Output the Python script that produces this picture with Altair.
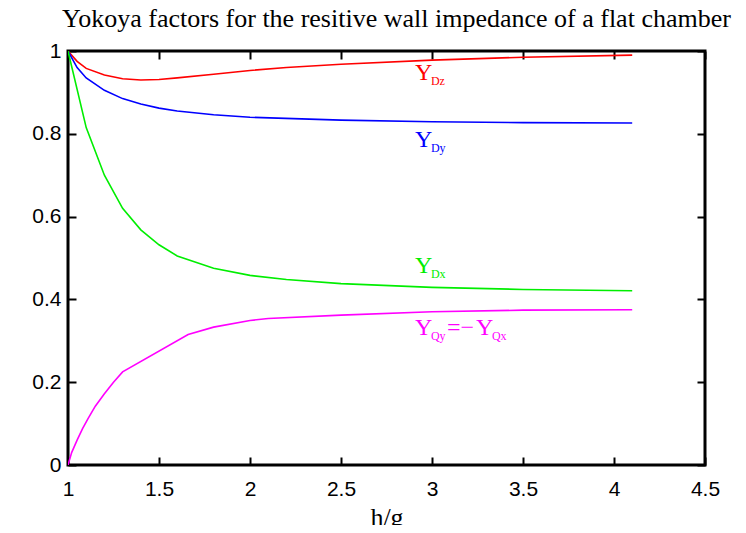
import altair as alt
import pandas as pd

# ---- data ----
dz_x = [1.0, 1.05, 1.1, 1.2, 1.3, 1.4, 1.5, 1.6, 1.8, 2.0, 2.2, 2.5, 3.0, 3.5, 4.1]
dz_y = [1.0, 0.975, 0.958, 0.942, 0.933, 0.930, 0.931, 0.935, 0.944, 0.953, 0.960, 0.968, 0.978, 0.985, 0.990]

dy_x = [1.0, 1.05, 1.1, 1.2, 1.3, 1.4, 1.5, 1.6, 1.8, 2.0, 2.5, 3.0, 3.5, 4.1]
dy_y = [1.0, 0.960, 0.935, 0.905, 0.885, 0.872, 0.862, 0.855, 0.846, 0.840, 0.833, 0.829, 0.827, 0.826]

dx_x = [1.0, 1.1, 1.2, 1.3, 1.4, 1.5, 1.6, 1.8, 2.0, 2.2, 2.5, 3.0, 3.5, 4.1]
dx_y = [1.0, 0.815, 0.700, 0.620, 0.568, 0.532, 0.505, 0.475, 0.458, 0.448, 0.438, 0.429, 0.424, 0.421]

qy_x = [1.0, 1.02, 1.05, 1.08, 1.11, 1.15, 1.2, 1.25, 1.3, 1.66, 1.8, 2.0, 2.1, 2.5, 3.0, 3.5, 4.1]
qy_y = [0.0, 0.030, 0.060, 0.088, 0.112, 0.142, 0.172, 0.200, 0.225, 0.315, 0.333, 0.349, 0.354, 0.362, 0.370, 0.374, 0.375]

series_names = ["YDz", "YDy", "YDx", "YQy"]
series_colors = ["#ff0000", "#0000ff", "#00ee00", "#ff00ff"]

x_ticks = [1, 1.5, 2, 2.5, 3, 3.5, 4, 4.5]
y_ticks = [0, 0.2, 0.4, 0.6, 0.8, 1]

# label anchors (data units) and texts
label_x = [2.906, 2.906, 2.906, 2.906]
label_y = [0.930, 0.768, 0.464, 0.314]
label_sub = ["Dz", "Dy", "Dx", "Qy"]

title_text = "Yokoya factors for the resitive wall impedance of a flat chamber"
x_title = "h/g"

# ---- build tables ----
rows = []
for name, xs, ys in zip(series_names, [dz_x, dy_x, dx_x, qy_x], [dz_y, dy_y, dx_y, qy_y]):
    for i, (a, b) in enumerate(zip(xs, ys)):
        rows.append({"series": name, "x": a, "y": b, "order": i})
df = pd.DataFrame(rows)

lab = pd.DataFrame({
    "series": series_names,
    "x": label_x,
    "y": label_y,
    "sub": label_sub,
})
lab_q = lab[lab["series"] == "YQy"]

serif = "Liberation Serif"
sans = "Liberation Sans"

xscale = alt.Scale(domain=[1, 4.5], nice=False, zero=False)
yscale = alt.Scale(domain=[0, 1], nice=False)
cscale = alt.Scale(domain=series_names, range=series_colors)

tick_common = dict(
    grid=True, gridDash=[8, 2000], gridColor="black", gridWidth=2, gridOpacity=1,
    ticks=False, domain=False,
)

xaxis = alt.Axis(values=x_ticks, format="~g", title=x_title, titleFont=serif, titleFontSize=26,
                 titleFontWeight="normal", titleColor="black", titlePadding=5,
                 labelFont=sans, labelFontSize=21, labelColor="black", labelPadding=13,
                 labelFlush=False, labelOverlap=False,
                 **tick_common)
yaxis = alt.Axis(values=y_ticks, format="~g", title=None,
                 labelFont=sans, labelFontSize=21, labelColor="black", labelPadding=7,
                 labelFlush=False, labelOverlap=False,
                 **tick_common)

lines_base = alt.Chart(df)

lines = lines_base.mark_line(strokeWidth=1.6, clip=True).encode(
    x=alt.X("x:Q", scale=xscale, axis=xaxis),
    y=alt.Y("y:Q", scale=yscale, axis=yaxis),
    color=alt.Color("series:N", scale=cscale, legend=None),
    order="order:Q",
    detail="series:N",
)

# mirror axes (top/right) with inward ticks, no labels
mirror = lines_base.mark_line(opacity=0).encode(
    x=alt.X("x:Q", scale=xscale, axis=alt.Axis(orient="top", values=x_ticks, labels=False, title=None, **tick_common)),
    y=alt.Y("y:Q", scale=yscale, axis=alt.Axis(orient="right", values=y_ticks, labels=False, title=None, **tick_common)),
    detail="series:N",
)

enc_lab = dict(
    x=alt.X("x:Q", scale=xscale, axis=None),
    y=alt.Y("y:Q", scale=yscale, axis=None),
    color=alt.Color("series:N", scale=cscale, legend=None),
)

main_y = alt.Chart(lab).mark_text(font=serif, fontSize=24, align="left", baseline="alphabetic").encode(
    text=alt.value("Y"), **enc_lab)
sub_t = alt.Chart(lab).mark_text(font=serif, fontSize=12, align="left", baseline="alphabetic", dx=16, dy=5).encode(
    text="sub:N", **enc_lab)
eq_t = alt.Chart(lab_q).mark_text(font=serif, fontSize=24, align="left", baseline="alphabetic", dx=32).encode(
    text=alt.value("=\u2212"), **enc_lab)
y2_t = alt.Chart(lab_q).mark_text(font=serif, fontSize=24, align="left", baseline="alphabetic", dx=61).encode(
    text=alt.value("Y"), **enc_lab)
sub2_t = alt.Chart(lab_q).mark_text(font=serif, fontSize=12, align="left", baseline="alphabetic", dx=77, dy=5).encode(
    text=alt.value("Qx"), **enc_lab)

chart = alt.layer(lines, mirror, main_y, sub_t, eq_t, y2_t, sub2_t).resolve_axis(
    x="independent", y="independent"
).properties(
    width=637, height=414,
    title=alt.TitleParams(title_text, font=serif, fontSize=26, fontWeight="normal", color="black",
                          anchor="middle", offset=8, dx=10),
    autosize=alt.AutoSizeParams(type="none"),
    padding={"left": 60, "top": 43, "right": 33, "bottom": 60},
).configure(
    background="white",
    view=alt.ViewConfig(stroke="black", strokeWidth=3),
)

chart.save("out.html", embed_options={"renderer": "svg", "actions": False})
